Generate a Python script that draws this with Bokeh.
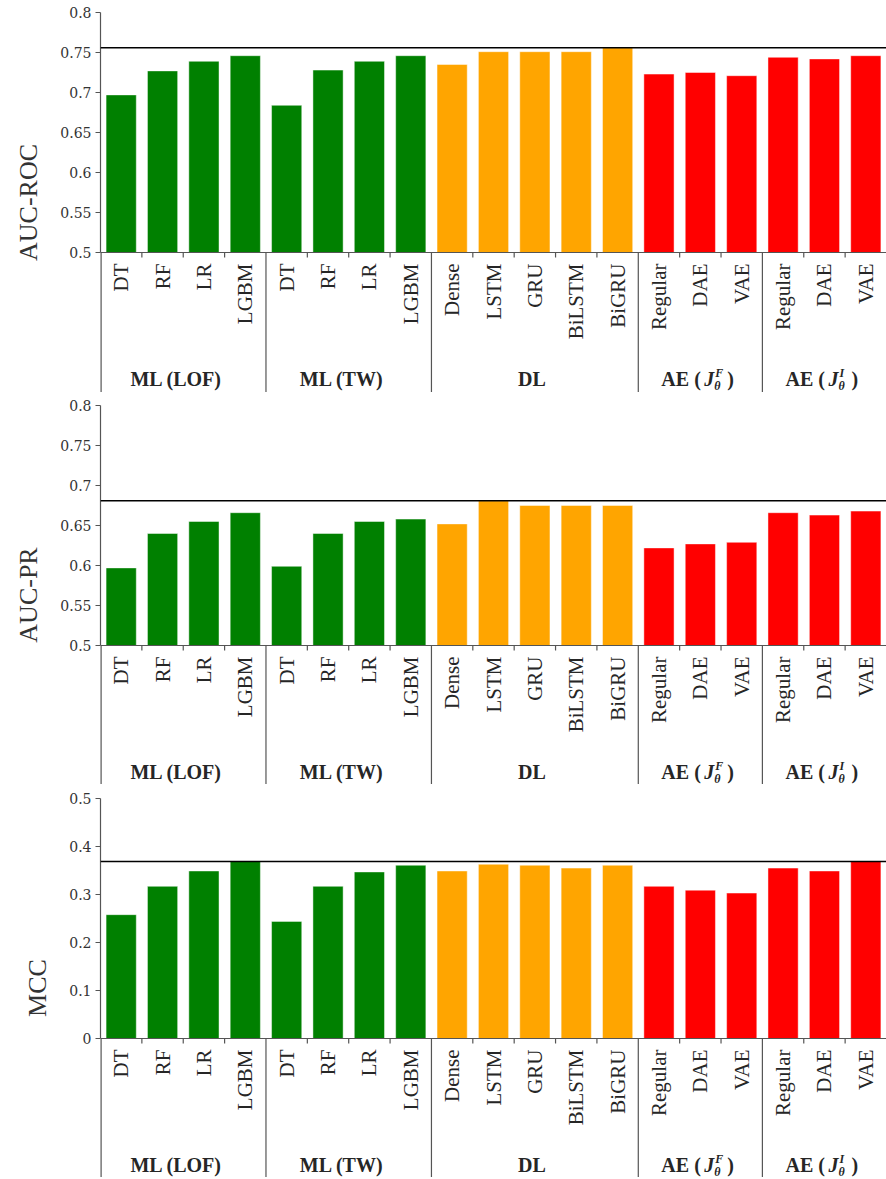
import math
from bokeh.plotting import figure
from bokeh.layouts import column
from bokeh.models import Span, FixedTicker, Range1d
from bokeh.core.properties import value
from bokeh.embed import file_html
from bokeh.resources import INLINE

# ---------------- data ----------------
models = ["DT", "RF", "LR", "LGBM",
          "DT", "RF", "LR", "LGBM",
          "Dense", "LSTM", "GRU", "BiLSTM", "BiGRU",
          "Regular", "DAE", "VAE",
          "Regular", "DAE", "VAE"]
group_names = ["ML (LOF)", "ML (TW)", "DL", "AE F", "AE I"]
group_sizes = [4, 4, 5, 3, 3]
group_colors = ["#008000", "#008000", "#FFA500", "#FF0000", "#FF0000"]
group_sup = [None, None, None, "F", "I"]

auc_roc = [0.697, 0.727, 0.739, 0.746,
           0.684, 0.728, 0.739, 0.746,
           0.735, 0.751, 0.751, 0.751, 0.756,
           0.723, 0.725, 0.721,
           0.744, 0.742, 0.746]
auc_pr = [0.597, 0.640, 0.655, 0.666,
          0.599, 0.640, 0.655, 0.658,
          0.652, 0.681, 0.675, 0.675, 0.675,
          0.622, 0.627, 0.629,
          0.666, 0.663, 0.668]
mcc = [0.258, 0.317, 0.349, 0.369,
       0.244, 0.317, 0.347, 0.361,
       0.349, 0.363, 0.361, 0.355, 0.361,
       0.317, 0.309, 0.303,
       0.355, 0.349, 0.369]

roc_ticks = [0.5, 0.55, 0.6, 0.65, 0.7, 0.75, 0.8]
roc_labels = ["0.5", "0.55", "0.6", "0.65", "0.7", "0.75", "0.8"]
mcc_ticks = [0.0, 0.1, 0.2, 0.3, 0.4, 0.5]
mcc_labels = ["0", "0.1", "0.2", "0.3", "0.4", "0.5"]

# ---------------- derived ----------------
n = len(models)
xs = [i + 0.5 for i in range(n)]
bar_colors = []
group_starts = []
acc = 0
for g, size in enumerate(group_sizes):
    group_starts.append(acc)
    bar_colors += [group_colors[g]] * size
    acc += size

W = 886
LEFT = 100
FRAME_H = 240
AX = "#555555"
SERIF = "Liberation Serif"
TXT = "#262626"


def panel(vals, ylabel, yr, ticks, labels, top_border, strip_h):
    y0, y1 = yr
    k = (y1 - y0) / FRAME_H          # data units per pixel
    ybot = y0 - strip_h * k
    p = figure(width=W, height=top_border + FRAME_H + strip_h, title=None,
               x_range=Range1d(0, n), y_range=Range1d(ybot, y1),
               output_backend="svg", toolbar_location=None,
               x_axis_location=None,
               min_border_left=LEFT, min_border_right=0,
               min_border_top=top_border, min_border_bottom=0)
    p.outline_line_color = None
    p.grid.visible = False

    # bars and max line
    p.vbar(x=xs, top=vals, bottom=y0, width=0.73,
           fill_color=bar_colors, line_color="white", line_alpha=0.45)
    p.add_layout(Span(location=max(vals), dimension="width",
                      line_color="black", line_width=1.5))

    # y axis
    ax = p.yaxis[0]
    ax.bounds = (y0, y1)
    ax.ticker = FixedTicker(ticks=ticks, minor_ticks=[])
    ax.major_label_overrides = {t: l for t, l in zip(ticks, labels)}
    ax.axis_line_color = AX
    ax.axis_line_width = 1.2
    ax.major_tick_line_color = AX
    ax.major_tick_out = 5
    ax.major_tick_in = 0
    ax.major_label_standoff = 4
    ax.major_label_text_font = "DejaVu Serif"
    ax.major_label_text_font_size = "14px"
    ax.major_label_text_color = "#333333"
    ax.axis_label = ylabel
    ax.axis_label_text_font = SERIF
    ax.axis_label_text_font_style = "normal"
    ax.axis_label_text_font_size = "26px"
    ax.axis_label_text_color = "#333333"
    ax.axis_label_standoff = 14

    # x axis line
    p.segment(x0=[0], y0=[y0], x1=[n], y1=[y0], line_color=AX, line_width=1.2)
    # small ticks between bars
    inner = [b for b in range(1, n) if b not in group_starts]
    p.segment(x0=inner, y0=[y0] * len(inner), x1=inner,
              y1=[y0 - 5 * k] * len(inner), line_color=AX, line_width=1.2)
    # group separators (left one continues the y axis)
    p.segment(x0=group_starts, y0=[y0] * len(group_starts),
              x1=group_starts, y1=[ybot] * len(group_starts),
              line_color=AX, line_width=[2.4] + [1.2] * (len(group_starts) - 1))
    # model labels
    p.text(x=xs, y=[y0 - 11 * k] * n, text=models, angle=math.pi / 2,
           text_align="right", text_baseline="middle",
           text_font=value(SERIF), text_font_size="21px", text_color=TXT)
    # group labels
    yc = y0 - 126 * k
    for g, name in enumerate(group_names):
        cx = group_starts[g] + group_sizes[g] / 2.0
        if group_sup[g] is None:
            off = -7 if g < 2 else -3
            p.text(x=[cx], y=[yc], text=[name], x_offset=off,
                   text_align="center", text_baseline="middle",
                   text_font=value(SERIF), text_font_style="bold",
                   text_font_size="20px", text_color=TXT)
        else:
            p.text(x=[cx], y=[yc], text=["AE ("], x_offset=-39,
                   text_align="left", text_baseline="middle",
                   text_font=value(SERIF), text_font_style="bold",
                   text_font_size="20px", text_color=TXT)
            p.text(x=[cx], y=[yc], text=["J"], x_offset=4,
                   text_align="left", text_baseline="middle",
                   text_font=value(SERIF), text_font_style="bold italic",
                   text_font_size="20px", text_color=TXT)
            p.text(x=[cx], y=[yc + 6 * k], text=[group_sup[g]], x_offset=15,
                   text_align="left", text_baseline="middle",
                   text_font=value(SERIF), text_font_style="bold italic",
                   text_font_size="12px", text_color=TXT)
            p.text(x=[cx], y=[yc - 7 * k], text=["θ"], x_offset=14,
                   text_align="left", text_baseline="middle",
                   text_font=value(SERIF), text_font_style="bold italic",
                   text_font_size="12px", text_color=TXT)
            p.text(x=[cx], y=[yc], text=[")"], x_offset=27,
                   text_align="left", text_baseline="middle",
                   text_font=value(SERIF), text_font_style="bold",
                   text_font_size="20px", text_color=TXT)
    return p


p1 = panel(auc_roc, "AUC-ROC", (0.5, 0.8), roc_ticks, roc_labels, 12, 140)
p2 = panel(auc_pr, "AUC-PR", (0.5, 0.8), roc_ticks, roc_labels, 13, 139)
p3 = panel(mcc, "MCC", (0.0, 0.5), mcc_ticks, mcc_labels, 14, 139)

layout = column(p1, p2, p3, spacing=0)
open("out.html", "w").write(file_html(layout, INLINE))
